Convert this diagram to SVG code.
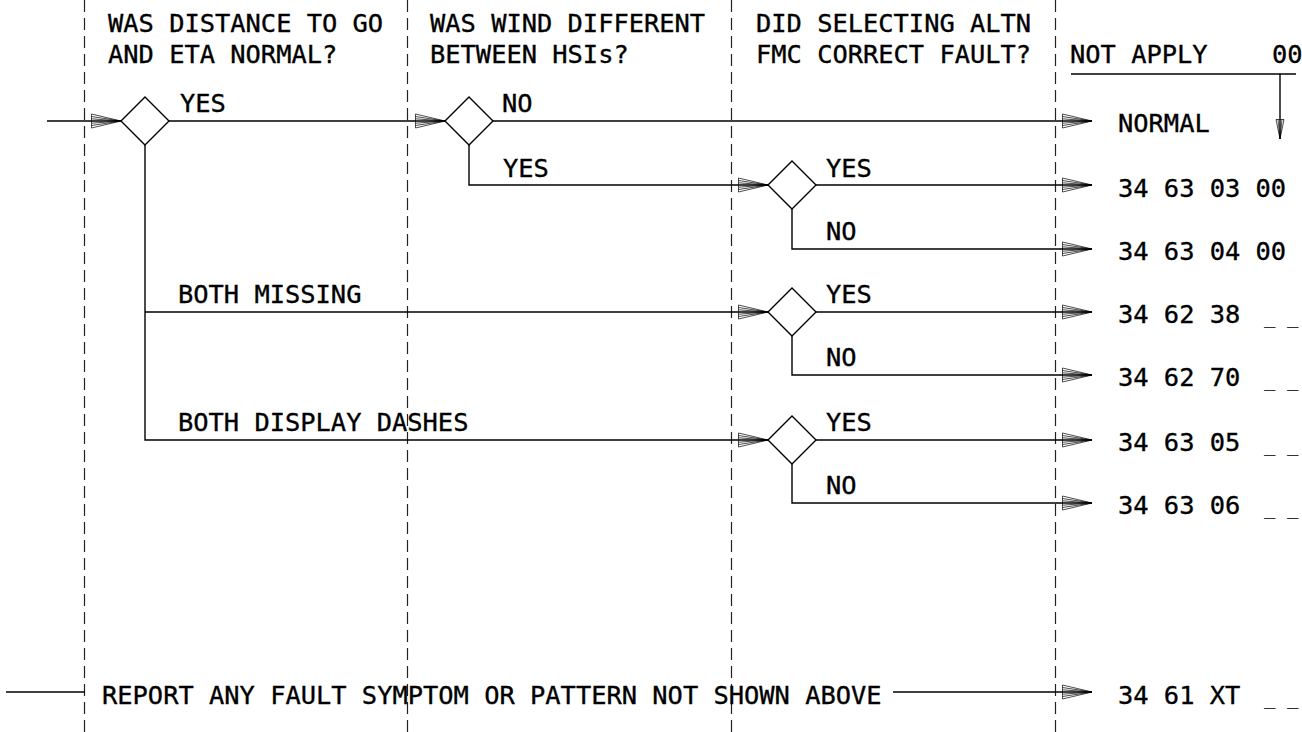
<svg xmlns="http://www.w3.org/2000/svg" width="1302" height="732" viewBox="0 0 1302 732">
<style>
text{font-family:"DejaVu Sans Mono","Liberation Mono",monospace;font-size:25.4px;fill:#000;stroke:#000;stroke-width:0.35}
.dd{font-size:19px;fill:#333;stroke:none}
.grid{stroke:#222;stroke-width:1.2;stroke-dasharray:12 6;fill:none}
.ln{stroke:#000;stroke-width:1.4;fill:none}
.ar{stroke:#000;stroke-width:1.4;fill:none;marker-end:url(#arr)}
.dia{fill:#fff;stroke:#000;stroke-width:1.4}
</style>
<defs>
<marker id="arr" viewBox="0 0 30 16" refX="30" refY="8" markerWidth="30" markerHeight="16" markerUnits="userSpaceOnUse" orient="auto">
<path d="M0.5,1 L30,8 L0.5,15 Z M0.5,3.5 L30,8 M0.5,5.8 L30,8 M0.5,10.2 L30,8 M0.5,12.5 L30,8" fill="none" stroke="#000" stroke-width="0.7"/>
</marker>
<marker id="arrs" viewBox="0 0 20 10" refX="20" refY="5" markerWidth="20" markerHeight="10" markerUnits="userSpaceOnUse" orient="auto">
<path d="M0.5,1 L20,5 L0.5,9 Z M0.5,3 L20,5 M0.5,7 L20,5" fill="none" stroke="#000" stroke-width="0.7"/>
</marker>
</defs>
<g id="grid">
<line class="grid" x1="84.5" y1="0" x2="84.5" y2="732"/>
<line class="grid" x1="407.5" y1="0" x2="407.5" y2="732"/>
<line class="grid" x1="731.5" y1="0" x2="731.5" y2="732"/>
<line class="grid" x1="1055.5" y1="0" x2="1055.5" y2="732"/>
</g>
<g id="headers">
<text x="108" y="32">WAS DISTANCE TO GO</text>
<text x="108" y="63">AND ETA NORMAL?</text>
<text x="430" y="32">WAS WIND DIFFERENT</text>
<text x="430" y="63">BETWEEN HSIs?</text>
<text x="756" y="32">DID SELECTING ALTN</text>
<text x="756" y="63">FMC CORRECT FAULT?</text>
<text x="1070" y="63">NOT APPLY</text>
<text x="1272" y="63">00</text>
</g>
<g id="connectors">
<path class="ar" d="M47,121 H121"/>
<path class="ar" d="M169,121 H445"/>
<path class="ar" d="M493,121 H1092"/>
<path class="ar" d="M469,145 V185 H768"/>
<path class="ar" d="M816,185 H1092"/>
<path class="ar" d="M792,209 V249 H1092"/>
<path class="ar" d="M145,145 V440 H768"/>
<path class="ar" d="M145,312 H768"/>
<path class="ar" d="M816,312 H1092"/>
<path class="ar" d="M792,336 V375 H1092"/>
<path class="ar" d="M816,440 H1092"/>
<path class="ar" d="M792,464 V503 H1092"/>
<path class="ln" d="M6,692 H85"/>
<path class="ar" d="M893,692 H1092"/>
<path class="ln" d="M1071,74 H1296"/>
<path class="ln" d="M1280,74 V139" style="marker-end:url(#arrs)"/>
</g>
<g id="d1"><polygon class="dia" points="145,97 169,121 145,145 121,121"/></g>
<g id="d2"><polygon class="dia" points="469,97 493,121 469,145 445,121"/></g>
<g id="d3"><polygon class="dia" points="792,161 816,185 792,209 768,185"/></g>
<g id="d4"><polygon class="dia" points="792,288 816,312 792,336 768,312"/></g>
<g id="d5"><polygon class="dia" points="792,416 816,440 792,464 768,440"/></g>
<g id="labels">
<text x="180" y="112">YES</text>
<text x="502" y="112">NO</text>
<text x="503" y="177">YES</text>
<text x="826" y="177">YES</text>
<text x="826" y="240">NO</text>
<text x="178" y="303">BOTH MISSING</text>
<text x="826" y="303">YES</text>
<text x="826" y="366">NO</text>
<text x="178" y="431">BOTH DISPLAY DASHES</text>
<text x="826" y="431">YES</text>
<text x="826" y="494">NO</text>
<text x="102" y="704">REPORT ANY FAULT SYMPTOM OR PATTERN NOT SHOWN ABOVE</text>
</g>
<g id="results">
<text x="1118" y="132">NORMAL</text>
<text x="1118" y="197">34 63 03 00</text>
<text x="1118" y="260">34 63 04 00</text>
<text x="1118" y="323">34 62 38</text>
<text class="dd" x="1264" y="323">_ _</text>
<text x="1118" y="386">34 62 70</text>
<text class="dd" x="1264" y="386">_ _</text>
<text x="1118" y="451">34 63 05</text>
<text class="dd" x="1264" y="451">_ _</text>
<text x="1118" y="514">34 63 06</text>
<text class="dd" x="1264" y="514">_ _</text>
<text x="1118" y="704">34 61 XT</text>
<text class="dd" x="1264" y="704">_ _</text>
</g>
</svg>
